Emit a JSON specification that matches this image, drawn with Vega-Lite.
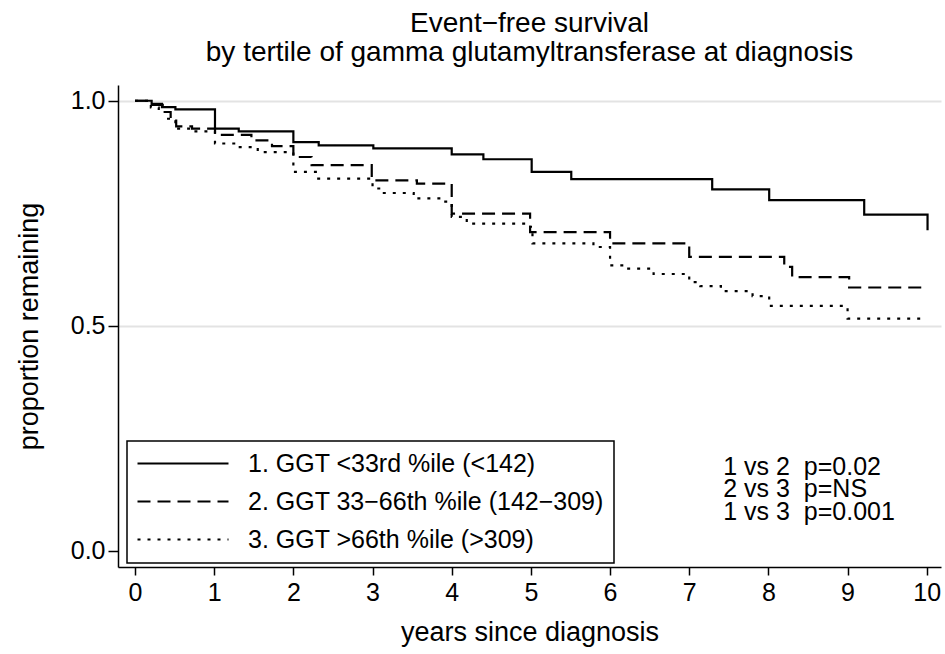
{
  "$schema": "https://vega.github.io/schema/vega-lite/v6.json",
  "width": 823,
  "height": 482,
  "autosize": {"type": "none"},
  "padding": {"left": 118, "top": 85, "right": 4, "bottom": 87},
  "background": "white",
  "title": {
    "text": ["Event−free survival", "by tertile of gamma glutamyltransferase at diagnosis"],
    "font": "Liberation Sans",
    "fontSize": 28,
    "fontWeight": "normal",
    "color": "black",
    "anchor": "middle",
    "lineHeight": 29,
    "offset": 18
  },
  "config": {
    "view": {"stroke": null},
    "font": "Liberation Sans",
    "axis": {
      "domainColor": "black",
      "domainWidth": 1.5,
      "tickColor": "black",
      "tickWidth": 1.5,
      "labelColor": "black",
      "labelFont": "Liberation Sans",
      "labelFontSize": 25,
      "titleFont": "Liberation Sans",
      "titleFontSize": 27,
      "titleFontWeight": "normal",
      "titleColor": "black"
    },
    "legend": {"strokeWidth": 1.5}
  },
  "layer": [
    {
      "data": {
        "values": [
          {"g": "1. GGT <33rd %ile (<142)", "t": 0, "s": 1.0},
          {"g": "1. GGT <33rd %ile (<142)", "t": 0.21, "s": 0.993},
          {"g": "1. GGT <33rd %ile (<142)", "t": 0.34, "s": 0.986},
          {"g": "1. GGT <33rd %ile (<142)", "t": 0.51, "s": 0.981},
          {"g": "1. GGT <33rd %ile (<142)", "t": 1.01, "s": 0.938},
          {"g": "1. GGT <33rd %ile (<142)", "t": 1.31, "s": 0.932},
          {"g": "1. GGT <33rd %ile (<142)", "t": 2.0, "s": 0.908},
          {"g": "1. GGT <33rd %ile (<142)", "t": 2.32, "s": 0.901},
          {"g": "1. GGT <33rd %ile (<142)", "t": 3.01, "s": 0.894},
          {"g": "1. GGT <33rd %ile (<142)", "t": 4.0, "s": 0.881},
          {"g": "1. GGT <33rd %ile (<142)", "t": 4.4, "s": 0.87},
          {"g": "1. GGT <33rd %ile (<142)", "t": 5.01, "s": 0.842},
          {"g": "1. GGT <33rd %ile (<142)", "t": 5.51, "s": 0.826},
          {"g": "1. GGT <33rd %ile (<142)", "t": 7.29, "s": 0.803},
          {"g": "1. GGT <33rd %ile (<142)", "t": 8.01, "s": 0.779},
          {"g": "1. GGT <33rd %ile (<142)", "t": 9.21, "s": 0.747},
          {"g": "1. GGT <33rd %ile (<142)", "t": 10.01, "s": 0.712},
          {"g": "2. GGT 33−66th %ile (142−309)", "t": 0, "s": 1.0},
          {"g": "2. GGT 33−66th %ile (142−309)", "t": 0.2, "s": 0.991},
          {"g": "2. GGT 33−66th %ile (142−309)", "t": 0.35, "s": 0.975},
          {"g": "2. GGT 33−66th %ile (142−309)", "t": 0.45, "s": 0.96},
          {"g": "2. GGT 33−66th %ile (142−309)", "t": 0.52, "s": 0.943},
          {"g": "2. GGT 33−66th %ile (142−309)", "t": 0.72, "s": 0.938},
          {"g": "2. GGT 33−66th %ile (142−309)", "t": 1.01, "s": 0.924},
          {"g": "2. GGT 33−66th %ile (142−309)", "t": 1.47, "s": 0.912},
          {"g": "2. GGT 33−66th %ile (142−309)", "t": 1.73, "s": 0.899},
          {"g": "2. GGT 33−66th %ile (142−309)", "t": 2.0, "s": 0.875},
          {"g": "2. GGT 33−66th %ile (142−309)", "t": 2.23, "s": 0.857},
          {"g": "2. GGT 33−66th %ile (142−309)", "t": 2.99, "s": 0.823},
          {"g": "2. GGT 33−66th %ile (142−309)", "t": 3.56, "s": 0.816},
          {"g": "2. GGT 33−66th %ile (142−309)", "t": 4.0, "s": 0.749},
          {"g": "2. GGT 33−66th %ile (142−309)", "t": 4.99, "s": 0.708},
          {"g": "2. GGT 33−66th %ile (142−309)", "t": 6.0, "s": 0.683},
          {"g": "2. GGT 33−66th %ile (142−309)", "t": 7.0, "s": 0.653},
          {"g": "2. GGT 33−66th %ile (142−309)", "t": 8.2, "s": 0.631},
          {"g": "2. GGT 33−66th %ile (142−309)", "t": 8.3, "s": 0.608},
          {"g": "2. GGT 33−66th %ile (142−309)", "t": 9.02, "s": 0.585},
          {"g": "2. GGT 33−66th %ile (142−309)", "t": 9.99, "s": 0.585},
          {"g": "3. GGT >66th %ile (>309)", "t": 0, "s": 1.0},
          {"g": "3. GGT >66th %ile (>309)", "t": 0.2, "s": 0.985},
          {"g": "3. GGT >66th %ile (>309)", "t": 0.3, "s": 0.975},
          {"g": "3. GGT >66th %ile (>309)", "t": 0.4, "s": 0.96},
          {"g": "3. GGT >66th %ile (>309)", "t": 0.51, "s": 0.938},
          {"g": "3. GGT >66th %ile (>309)", "t": 0.75, "s": 0.932},
          {"g": "3. GGT >66th %ile (>309)", "t": 1.01, "s": 0.905},
          {"g": "3. GGT >66th %ile (>309)", "t": 1.3, "s": 0.897},
          {"g": "3. GGT >66th %ile (>309)", "t": 1.55, "s": 0.886},
          {"g": "3. GGT >66th %ile (>309)", "t": 2.0, "s": 0.842},
          {"g": "3. GGT >66th %ile (>309)", "t": 2.3, "s": 0.827},
          {"g": "3. GGT >66th %ile (>309)", "t": 3.0, "s": 0.805},
          {"g": "3. GGT >66th %ile (>309)", "t": 3.12, "s": 0.795},
          {"g": "3. GGT >66th %ile (>309)", "t": 3.52, "s": 0.783},
          {"g": "3. GGT >66th %ile (>309)", "t": 3.9, "s": 0.776},
          {"g": "3. GGT >66th %ile (>309)", "t": 4.0, "s": 0.742},
          {"g": "3. GGT >66th %ile (>309)", "t": 4.19, "s": 0.727},
          {"g": "3. GGT >66th %ile (>309)", "t": 4.97, "s": 0.72},
          {"g": "3. GGT >66th %ile (>309)", "t": 5.02, "s": 0.683},
          {"g": "3. GGT >66th %ile (>309)", "t": 5.79, "s": 0.675},
          {"g": "3. GGT >66th %ile (>309)", "t": 6.0, "s": 0.634},
          {"g": "3. GGT >66th %ile (>309)", "t": 6.2, "s": 0.627},
          {"g": "3. GGT >66th %ile (>309)", "t": 6.55, "s": 0.615},
          {"g": "3. GGT >66th %ile (>309)", "t": 7.0, "s": 0.597},
          {"g": "3. GGT >66th %ile (>309)", "t": 7.14, "s": 0.588},
          {"g": "3. GGT >66th %ile (>309)", "t": 7.4, "s": 0.577},
          {"g": "3. GGT >66th %ile (>309)", "t": 7.8, "s": 0.566},
          {"g": "3. GGT >66th %ile (>309)", "t": 8.01, "s": 0.544},
          {"g": "3. GGT >66th %ile (>309)", "t": 9.0, "s": 0.516},
          {"g": "3. GGT >66th %ile (>309)", "t": 9.99, "s": 0.516}
        ]
      },
      "mark": {"type": "line", "interpolate": "step-after", "color": "black", "strokeWidth": 2.2},
      "encoding": {
        "x": {
          "field": "t",
          "type": "quantitative",
          "scale": {"domain": [-0.215, 10.18], "nice": false, "zero": false},
          "axis": {
            "values": [0, 1, 2, 3, 4, 5, 6, 7, 8, 9, 10],
            "format": "d",
            "title": "years since diagnosis",
            "grid": false,
            "tickSize": 8,
            "labelPadding": 5,
            "titlePadding": 14
          }
        },
        "y": {
          "field": "s",
          "type": "quantitative",
          "scale": {"domain": [-0.036, 1.035], "nice": false, "zero": false},
          "axis": {
            "values": [0, 0.5, 1],
            "format": ".1f",
            "title": "proportion remaining",
            "tickSize": 10,
            "labelPadding": 3,
            "titlePadding": 27,
            "grid": true,
            "gridColor": "#e3e3e3",
            "gridWidth": 2,
            "gridOpacity": {"condition": {"test": "datum.value === 0", "value": 0}, "value": 1}
          }
        },
        "strokeDash": {
          "field": "g",
          "type": "nominal",
          "scale": {
            "domain": ["1. GGT <33rd %ile (<142)", "2. GGT 33−66th %ile (142−309)", "3. GGT >66th %ile (>309)"],
            "range": [[1, 0], [13, 7], [3, 7]]
          },
          "legend": {
            "title": null,
            "orient": "none",
            "legendX": 9,
            "legendY": 356,
            "strokeColor": "black",
            "padding": 10,
            "symbolType": "M-2.4,0H15.8",
            "symbolSize": 100,
            "symbolStrokeWidth": 2.2,
            "symbolStrokeColor": "black",
            "symbolFillColor": "transparent",
            "labelFont": "Liberation Sans",
            "labelFontSize": 25,
            "labelColor": "black",
            "labelOffset": 86,
            "labelLimit": 700,
            "rowPadding": 12
          }
        }
      }
    },
    {
      "data": {
        "values": [
          {"label": "1 vs 2\u00a0\u00a0p=0.02", "t": 7.43, "s": 0.1856},
          {"label": "2 vs 3\u00a0\u00a0p=NS", "t": 7.43, "s": 0.1367},
          {"label": "1 vs 3\u00a0\u00a0p=0.001", "t": 7.43, "s": 0.0856}
        ]
      },
      "mark": {"type": "text", "align": "left", "baseline": "middle", "fontSize": 25, "font": "Liberation Sans", "color": "black"},
      "encoding": {
        "x": {"field": "t", "type": "quantitative"},
        "y": {"field": "s", "type": "quantitative"},
        "text": {"field": "label"}
      }
    }
  ]
}
